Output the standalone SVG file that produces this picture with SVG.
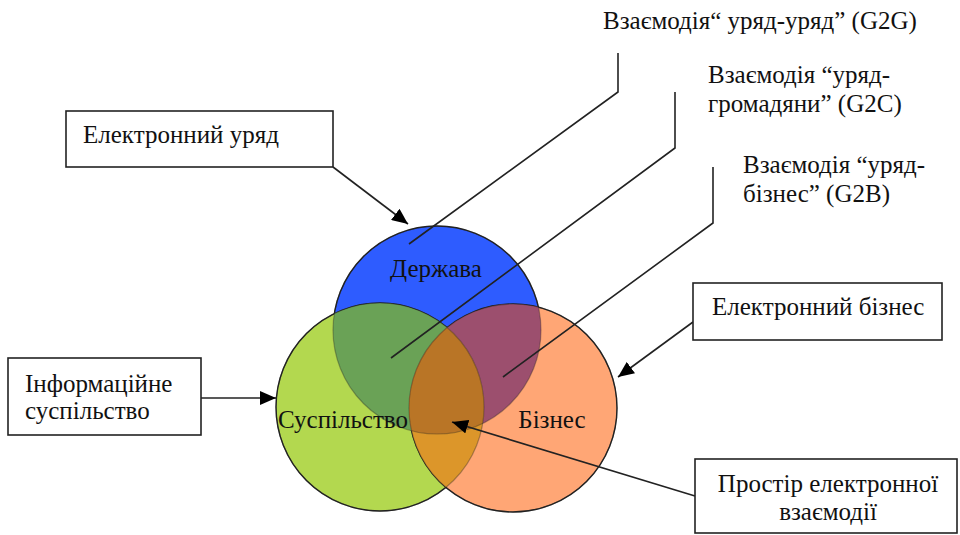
<svg xmlns="http://www.w3.org/2000/svg" width="960" height="535" viewBox="0 0 960 535" font-family="'Liberation Serif', 'Times New Roman', serif" font-size="25">
<defs>
<style>
.t{font-family:'Liberation Serif','Times New Roman',serif;font-size:25px;fill:#111}
.box{fill:#fff;stroke:#222;stroke-width:1.6}
.conn{fill:none;stroke:#222;stroke-width:1.6}
.edge{stroke:#222;stroke-width:1.4}
.inner{fill:none;stroke:#222;stroke-width:1.2;stroke-opacity:0.35}
</style>
<marker id="arr" markerUnits="userSpaceOnUse" markerWidth="18" markerHeight="14" refX="16" refY="7" orient="auto">
<path d="M0,0 L16,7 L0,14 Z" fill="#000"/>
</marker>
<clipPath id="cB"><circle cx="437" cy="330" r="104"/></clipPath>
<clipPath id="cG"><circle cx="380" cy="407" r="104"/></clipPath>
<clipPath id="cO"><circle cx="513" cy="408" r="104"/></clipPath>
</defs>
<rect width="960" height="535" fill="#fff"/>

<g id="venn">
<g id="derzhava">
<circle cx="437" cy="330" r="104" fill="#2e5cff" class="edge"/>
</g>
<g id="suspilstvo">
<circle cx="380" cy="407" r="104" fill="#b3d84f" class="edge"/>
</g>
<g id="biznes">
<circle cx="513" cy="408" r="104" fill="#ffa675" class="edge"/>
</g>
<g id="overlaps">
<g clip-path="url(#cB)"><circle cx="380" cy="407" r="104" fill="#6aa256"/></g>
<g clip-path="url(#cB)"><circle cx="513" cy="408" r="104" fill="#9c4f6e"/></g>
<g clip-path="url(#cG)"><circle cx="513" cy="408" r="104" fill="#dc962a"/></g>
<g clip-path="url(#cB)"><g clip-path="url(#cG)"><circle cx="513" cy="408" r="104" fill="#b97526"/></g></g>
<circle cx="437" cy="330" r="104" class="inner"/>
<circle cx="380" cy="407" r="104" class="inner"/>
<circle cx="513" cy="408" r="104" class="inner"/>
</g>
<text class="t" x="436" y="277" text-anchor="middle">Держава</text>
<text class="t" x="343" y="428" text-anchor="middle">Суспільство</text>
<text class="t" x="552" y="428" text-anchor="middle">Бізнес</text>
</g>

<g id="connectors">
<polyline class="conn" points="618,53 618,92 409,244"/>
<polyline class="conn" points="675,92 675,148 391,358"/>
<polyline class="conn" points="713,167 713,223 503,377"/>
<line class="conn" x1="333" y1="167" x2="408" y2="224" marker-end="url(#arr)"/>
<line class="conn" x1="201" y1="398" x2="276" y2="398" marker-end="url(#arr)"/>
<line class="conn" x1="693" y1="322" x2="618" y2="377" marker-end="url(#arr)"/>
<line class="conn" x1="695" y1="496" x2="452" y2="422" marker-end="url(#arr)"/>
</g>

<g id="label-g2g">
<text class="t" x="603" y="29">Взаємодія“ уряд-уряд” (G2G)</text>
</g>
<g id="label-g2c">
<text class="t" x="708" y="83">Взаємодія “уряд-</text>
<text class="t" x="708" y="112">громадяни” (G2C)</text>
</g>
<g id="label-g2b">
<text class="t" x="743" y="173">Взаємодія “уряд-</text>
<text class="t" x="743" y="202">бізнес” (G2B)</text>
</g>

<g id="box-e-uriad">
<rect class="box" x="66" y="111" width="267" height="56"/>
<text class="t" x="83" y="143">Електронний уряд</text>
</g>
<g id="box-info">
<rect class="box" x="8" y="358" width="193" height="77"/>
<text class="t" x="25" y="392">Інформаційне</text>
<text class="t" x="25" y="419">суспільство</text>
</g>
<g id="box-e-biznes">
<rect class="box" x="693" y="283" width="249" height="57"/>
<text class="t" x="712" y="315">Електронний бізнес</text>
</g>
<g id="box-prostir">
<rect class="box" x="695" y="459" width="262" height="74"/>
<text class="t" x="828" y="492" text-anchor="middle">Простір електронної</text>
<text class="t" x="828" y="520" text-anchor="middle">взаємодії</text>
</g>
</svg>
